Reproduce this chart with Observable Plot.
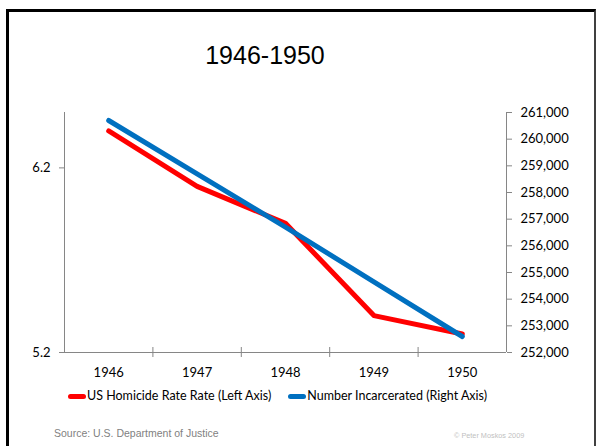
<!DOCTYPE html>
<html>
<head>
<meta charset="utf-8">
<script src="https://cdn.jsdelivr.net/npm/d3@7"></script>
<script src="https://cdn.jsdelivr.net/npm/@observablehq/plot@0.6"></script>
<style>
  html, body { margin: 0; padding: 0; background: #fff; }
  body { width: 596px; height: 446px; position: relative; overflow: hidden; }
  #frame { position: absolute; left: 6px; top: 9px; width: 585px; height: 460px;
           border-top: 3px solid #000; border-left: 3px solid #000; border-right: 2px solid #404040; }
  #title { position: absolute; left: 165px; width: 200px; top: 43px; text-align: center;
           font-family: "Liberation Sans", Arial, sans-serif; font-size: 25px; line-height: 1; color: #000; }
  #chart { position: absolute; left: 0; top: 90px; }
  #legend { position: absolute; left: 68px; top: 388px; display: flex; align-items: center;
            font-family: Lato, sans-serif; font-size: 12.5px; line-height: 16px; color: #000; white-space: nowrap; }
  .sw { width: 18px; height: 5px; border-radius: 2.5px; margin-right: 1px; }
  #source { position: absolute; left: 54px; top: 428px; font-family: "Liberation Sans", Arial, sans-serif;
            font-size: 10.5px; line-height: 1; color: #7f7f7f; white-space: nowrap; }
  #copy { position: absolute; left: 454px; top: 432px; font-family: "Liberation Sans", Arial, sans-serif;
          font-size: 7.3px; line-height: 1; color: #bfbfbf; white-space: nowrap; }
</style>
</head>
<body>
<div id="frame"></div>
<div id="title">1946-1950</div>
<div id="chart"></div>
<div id="legend"></div>
<div id="source">Source: U.S. Department of Justice</div>
<div id="copy">© Peter Moskos 2009</div>
<script>
// ---- data ----
const years = [1946, 1947, 1948, 1949, 1950];
const homicideRate = [6.4, 6.1, 5.9, 5.4, 5.3];            // left axis
const incarcerated = [260700, 258700, 256700, 254650, 252600]; // right axis
const leftTicks = [5.2, 6.2];
const rightTicks = [252000, 253000, 254000, 255000, 256000, 257000, 258000, 259000, 260000, 261000];
const seriesNames = ["US Homicide Rate Rate (Left Axis)", "Number Incarcerated (Right Axis)"];
const seriesColors = ["#ff0000", "#0070c0"];

const leftDomain = [5.2, 6.5];
const rightDomain = [252000, 261000];
const xDomain = [1945.5, 1950.5];
const xTickPositions = [1946.5, 1947.5, 1948.5, 1949.5];

const rows = years.map((year, i) => ({year, rate: homicideRate[i], inmates: incarcerated[i]}));
const yR = d3.scaleLinear(rightDomain, leftDomain);
const axisColor = "#868686";

const chart = Plot.plot({
  width: 596,
  height: 300,
  marginTop: 22,
  marginBottom: 38,
  marginLeft: 64,
  marginRight: 90,
  style: {fontFamily: "Lato, sans-serif", fontSize: "13px", color: "#000", background: "transparent", overflow: "visible"},
  x: {type: "linear", domain: xDomain},
  y: {domain: leftDomain},
  marks: [
    Plot.ruleX([xDomain[0], xDomain[1]], {stroke: axisColor, strokeWidth: 1}),
    Plot.ruleY([leftDomain[0]], {stroke: axisColor, strokeWidth: 1}),
    Plot.ruleX(xTickPositions, {y1: leftDomain[0], y2: leftDomain[0], insetTop: -5, insetBottom: -5, stroke: axisColor}),
    Plot.axisY(leftTicks, {anchor: "left", tickSize: 5, tickPadding: 9, stroke: axisColor, fill: "#000", label: null, fontSize: 13, tickFormat: d3.format(".1f")}),
    Plot.axisY(rightTicks, {anchor: "right", y: yR, text: d => d3.format(",")(d), tickSize: 5, tickPadding: 9, stroke: axisColor, fill: "#000", label: null, fontSize: 13}),
    Plot.axisX(years, {anchor: "bottom", tickSize: 0, tickPadding: 15, label: null, fontSize: 13, tickFormat: d => String(d)}),
    Plot.line(rows, {x: "year", y: "rate", stroke: seriesColors[0], strokeWidth: 5, strokeLinejoin: "round", strokeLinecap: "round"}),
    Plot.line(rows, {x: "year", y: d => yR(d.inmates), stroke: seriesColors[1], strokeWidth: 5, strokeLinejoin: "round", strokeLinecap: "round"})
  ]
});
document.getElementById("chart").appendChild(chart);

const legend = document.getElementById("legend");
seriesNames.forEach((name, i) => {
  const sw = document.createElement("div");
  sw.className = "sw";
  sw.style.background = seriesColors[i];
  const label = document.createElement("span");
  label.textContent = name;
  if (i > 0) sw.style.marginLeft = "17px";
  legend.appendChild(sw);
  legend.appendChild(label);
});
</script>
</body>
</html>
